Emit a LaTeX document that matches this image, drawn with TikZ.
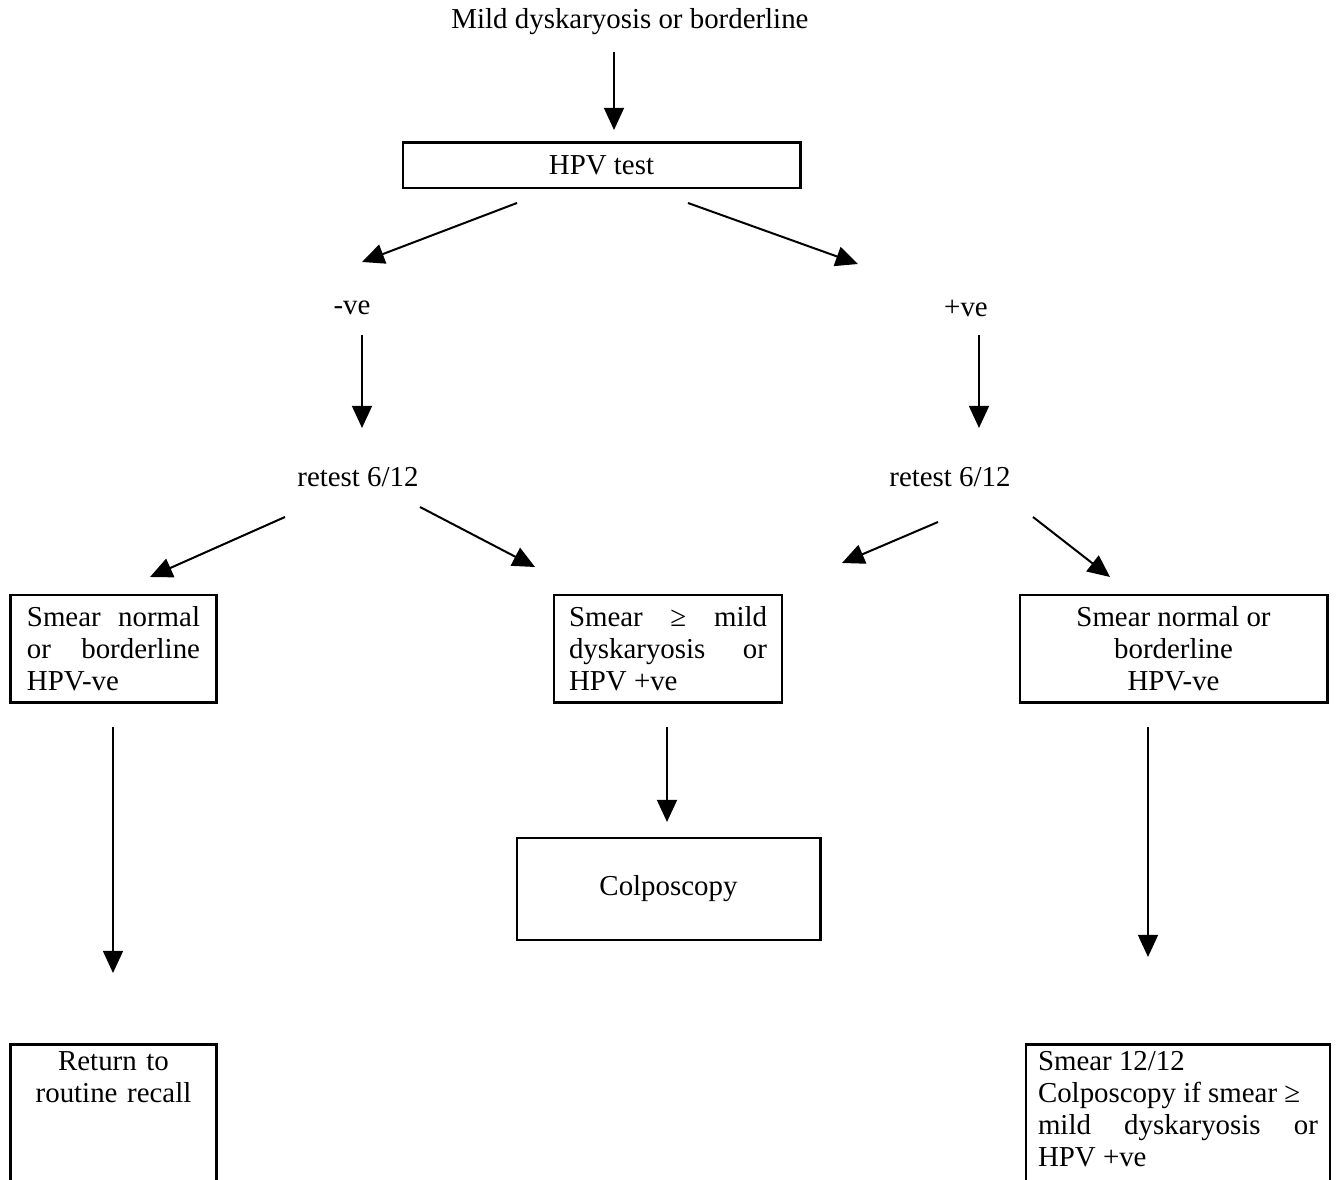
\documentclass[tikz,border=0pt]{standalone}
\usepackage{fontspec}
\setmainfont{Liberation Serif}
\usetikzlibrary{arrows.meta}
\tikzset{
    box/.style={draw, line width=1.3pt, inner ysep=3pt},
    arr/.style={line width=0.9pt, -{Triangle[length=10pt,width=9pt]}},
}
\begin{document}
\begin{tikzpicture}[x=0.45pt, y=-0.45pt, font=\fontsize{13}{14.4}\selectfont]
        \clip (0,0) rectangle (1336,1180);

        \node (title) at (630,22) {Mild dyskaryosis or borderline};
        \node[box, minimum width=178.7pt, minimum height=20.3pt] (hpv) at (601.5,165.5) {HPV test};
        \node (neg) at (352,308) {-ve};
        \node (pos) at (966,308) {+ve};
        \node (retestneg) at (358,477) {retest 6/12};
        \node (retestpos) at (950,477) {retest 6/12};

        \node[box, text width=77.9pt, inner xsep=7.2pt, minimum height=48.2pt, align=justify] (negnormal) at (113.5,648.5)
            {Smear normal or borderline HPV-ve};
        \node[box, text width=89.1pt, inner xsep=6.75pt, minimum height=48.2pt, align=justify] (negabn) at (668,648.5)
            {Smear ≥ mild dyskaryosis or HPV +ve};
        \node[box, minimum width=138.2pt, minimum height=48.2pt, align=center] (posnormal) at (1173.5,648.5)
            {Smear normal or\\borderline\\HPV-ve};
        \node[box, minimum width=136.4pt, minimum height=45.9pt] (colpo) at (668.5,889) {Colposcopy};

        \node[box, anchor=north, text width=77.9pt, inner xsep=7.2pt, align=center, text depth=52pt] (recall) at (113.5,1043)
            {Return to\\routine recall};
        \node[box, anchor=north, text width=126pt, inner xsep=5.4pt, align=justify, text depth=52pt] (smeartwelve) at (1178,1043)
            {Smear 12/12\\Colposcopy if smear ≥\\mild dyskaryosis or HPV +ve};

        \coordinate (titleout) at (614,52);   \coordinate (hpvin) at (614,130);
        \coordinate (hpvl) at (517,203);      \coordinate (negin) at (362,262);
        \coordinate (hpvr) at (688,203);      \coordinate (posin) at (858,264);
        \coordinate (negout) at (362,335);    \coordinate (rtnin) at (362,428);
        \coordinate (posout) at (979,335);    \coordinate (rtpin) at (979,428);
        \coordinate (rtnl) at (285,517);      \coordinate (nnin) at (150,577);
        \coordinate (rtnr) at (420,507);      \coordinate (nain) at (535,567);
        \coordinate (rtpl) at (938,522);      \coordinate (pain) at (842,563);
        \coordinate (rtpr) at (1033,517);     \coordinate (pnin) at (1110,577);
        \coordinate (nnout) at (113,727);     \coordinate (recin) at (113,973);
        \coordinate (naout) at (667,727);     \coordinate (colin) at (667,822);
        \coordinate (pnout) at (1148,727);    \coordinate (smin) at (1148,957);

        \foreach \a/\b in {titleout/hpvin, hpvl/negin, hpvr/posin, negout/rtnin, posout/rtpin,
                           rtnl/nnin, rtnr/nain, rtpl/pain, rtpr/pnin, nnout/recin, naout/colin, pnout/smin}{
            \draw[arr] (\a) -- (\b);
        }
    \end{tikzpicture}
\end{document}
